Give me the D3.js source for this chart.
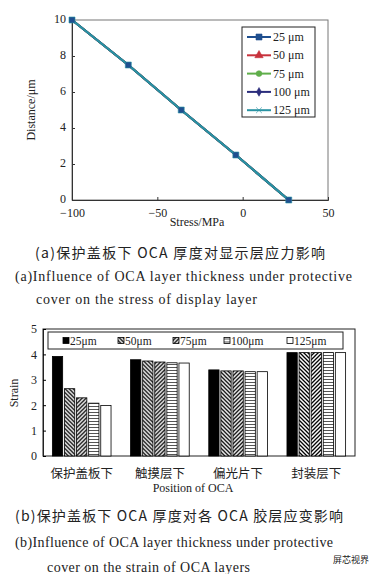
<!DOCTYPE html>
<html>
<head>
<meta charset="utf-8">
<script src="https://cdn.jsdelivr.net/npm/d3@7"></script>
<style>
  body { margin: 0; background: #fff; }
  svg { display: block; }
  text { font-family: "Liberation Serif", "Times New Roman", serif; fill: #222; }
  .cjk { font-family: "Noto Sans CJK SC", sans-serif; }
</style>
</head>
<body>
<script>
// ---- data: chart (a), stress vs distance for each OCA thickness
var distance = [10, 7.5, 5, 2.5, 0];
var stress25 = [-100, -67, -36, -4, 27];
var stress50 = [-100, -67, -36, -4, 27];
var stress75 = [-100, -67, -36, -4, 27];
var stress100 = [-100, -67, -36, -4, 27];
var stress125 = [-100, -67, -36, -4, 27];
var lineNames = ["25 μm", "50 μm", "75 μm", "100 μm", "125 μm"];
var xTicksA = [-100, -50, 0, 50];
var yTicksA = [0, 2, 4, 6, 8, 10];

// ---- data: chart (b), strain per OCA position
var positions = ["保护盖板下", "触摸层下", "偏光片下", "封装层下"];
var barNames = ["25μm", "50μm", "75μm", "100μm", "125μm"];
var strain25 = [3.92, 3.79, 3.39, 4.07];
var strain50 = [2.65, 3.74, 3.35, 4.07];
var strain75 = [2.29, 3.70, 3.35, 4.07];
var strain100 = [2.08, 3.67, 3.32, 4.07];
var strain125 = [1.99, 3.66, 3.32, 4.07];
var yTicksB = [0, 1, 2, 3, 4, 5];

var svg = d3.select("body").append("svg")
  .attr("width", 386)
  .attr("height", 574);

// ================= chart (a) =================
var x = d3.scaleLinear().domain([-100, 50]).range([72, 328]);
var y = d3.scaleLinear().domain([0, 10]).range([200, 20]);

// frame
svg.append("rect")
  .attr("x", 72).attr("y", 20).attr("width", 256).attr("height", 180)
  .attr("fill", "none").attr("stroke", "#777").attr("stroke-width", 1);

var gx = svg.append("g").attr("transform", "translate(0,200)")
  .call(d3.axisBottom(x).tickValues(xTicksA).tickSize(-3).tickPadding(8));
var gy = svg.append("g").attr("transform", "translate(72,0)")
  .call(d3.axisLeft(y).tickValues(yTicksA).tickSize(-3).tickPadding(6));
[gx, gy].forEach(function(g) {
  g.select(".domain").attr("stroke", "#333");
  g.selectAll(".tick line").attr("stroke", "#333");
  g.selectAll("text").attr("font-size", 12).attr("font-family", "Liberation Serif").attr("fill", "#222");
});
gy.selectAll("text").attr("dy", "0.2em");

svg.append("text").attr("x", 197).attr("y", 226).attr("text-anchor", "middle")
  .attr("font-size", 12).text("Stress/MPa");
svg.append("text").attr("transform", "translate(35,110) rotate(-90)").attr("text-anchor", "middle")
  .attr("font-size", 12).text("Distance/μm");

var lineSeries = [
  { name: lineNames[0], vals: stress25, color: "#1f4f8f", mark: "square" },
  { name: lineNames[1], vals: stress50, color: "#c8323c", mark: "triangle" },
  { name: lineNames[2], vals: stress75, color: "#5fae4a", mark: "circle" },
  { name: lineNames[3], vals: stress100, color: "#2b2d7c", mark: "diamond" },
  { name: lineNames[4], vals: stress125, color: "#2a93a3", mark: "cross" }
];

var line = d3.line()
  .x(function(d) { return x(d[0]); })
  .y(function(d) { return y(d[1]); });

function symbolFor(m) {
  if (m == "square") return d3.symbol().type(d3.symbolSquare).size(36);
  if (m == "triangle") return d3.symbol().type(d3.symbolTriangle).size(30);
  if (m == "circle") return d3.symbol().type(d3.symbolCircle).size(26);
  if (m == "diamond") return d3.symbol().type(d3.symbolDiamond).size(22);
  return d3.symbol().type(d3.symbolX).size(24);
}

// lines underneath, markers of the 25 μm series on top
lineSeries.forEach(function(s, i) {
  var pts = s.vals.map(function(v, j) { return [v, distance[j]]; });
  svg.append("path").datum(pts)
    .attr("d", line).attr("fill", "none")
    .attr("stroke", s.color).attr("stroke-width", 2.2);
});
var pts25 = stress25.map(function(v, j) { return [v, distance[j]]; });
svg.append("g").selectAll("path").data(pts25).join("path")
  .attr("transform", function(d) { return "translate(" + x(d[0]) + "," + y(d[1]) + ")"; })
  .attr("d", symbolFor("square")())
  .attr("fill", "#1f4f8f").attr("stroke", "#2a93a3").attr("stroke-width", 0.6);

// legend (a)
svg.append("rect").attr("x", 242).attr("y", 27).attr("width", 73).attr("height", 90)
  .attr("fill", "#fff").attr("stroke", "#222").attr("stroke-width", 1);
var legA = svg.append("g").selectAll("g").data(lineSeries).join("g")
  .attr("transform", function(d, i) { return "translate(247," + (37 + i * 18.3) + ")"; });
legA.append("line").attr("x1", 0).attr("x2", 24).attr("y1", 0).attr("y2", 0)
  .attr("stroke", function(d) { return d.color; }).attr("stroke-width", 2);
legA.append("path").attr("transform", "translate(12,0)")
  .attr("d", function(d) { return symbolFor(d.mark)(); })
  .attr("fill", function(d) { return d.color; })
  .attr("stroke", function(d) { return d.color; }).attr("stroke-width", 0.6);
legA.append("text").attr("x", 26).attr("y", 4).attr("font-size", 12)
  .text(function(d) { return d.name; });

// captions (a)
svg.append("text").attr("class", "cjk").attr("x", 35).attr("y", 258)
  .attr("font-size", 14).attr("textLength", 290).attr("lengthAdjust", "spacing")
  .attr("fill", "#333").text("(a)保护盖板下 OCA 厚度对显示层应力影响");
svg.append("text").attr("x", 15).attr("y", 281)
  .attr("font-size", 14).attr("textLength", 337).attr("lengthAdjust", "spacing")
  .attr("fill", "#333").text("(a)Influence of OCA layer thickness under protective");
svg.append("text").attr("x", 36).attr("y", 304)
  .attr("font-size", 14).attr("textLength", 221).attr("lengthAdjust", "spacing")
  .attr("fill", "#333").text("cover on the stress of display layer");

// ================= chart (b) =================
var defs = svg.append("defs");
var p1 = defs.append("pattern").attr("id", "back").attr("patternUnits", "userSpaceOnUse")
  .attr("width", 4).attr("height", 4);
p1.append("rect").attr("width", 4).attr("height", 4).attr("fill", "#fff");
p1.append("path").attr("d", "M-1,-1L5,5M-1,3L1,5M3,-1L5,1").attr("stroke", "#000").attr("stroke-width", 1.3);
var p2 = defs.append("pattern").attr("id", "fwd").attr("patternUnits", "userSpaceOnUse")
  .attr("width", 4).attr("height", 4);
p2.append("rect").attr("width", 4).attr("height", 4).attr("fill", "#fff");
p2.append("path").attr("d", "M-1,5L5,-1M-1,1L1,-1M3,5L5,3").attr("stroke", "#000").attr("stroke-width", 1.3);
var p3 = defs.append("pattern").attr("id", "horiz").attr("patternUnits", "userSpaceOnUse")
  .attr("width", 4).attr("height", 3);
p3.append("rect").attr("width", 4).attr("height", 3).attr("fill", "#fff");
p3.append("path").attr("d", "M0,1.5H4").attr("stroke", "#555").attr("stroke-width", 1);

var fills = ["#000", "url(#back)", "url(#fwd)", "url(#horiz)", "#fff"];
var strainSeries = [strain25, strain50, strain75, strain100, strain125];

var xb = d3.scaleBand().domain(positions).range([43, 355]).paddingInner(0.25).paddingOuter(0.12);
var xi = d3.scaleBand().domain(d3.range(5)).range([0, xb.bandwidth()]).paddingInner(0.15);
var yb = d3.scaleLinear().domain([0, 5]).range([456, 329]);

svg.append("rect").attr("x", 43).attr("y", 329).attr("width", 312).attr("height", 127)
  .attr("fill", "none").attr("stroke", "#222").attr("stroke-width", 1);

var gyb = svg.append("g").attr("transform", "translate(43,0)")
  .call(d3.axisLeft(yb).tickValues(yTicksB).tickFormat(d3.format("d")).tickSize(-3).tickPadding(6));
gyb.select(".domain").attr("stroke", "#222");
gyb.selectAll("text").attr("font-size", 12).attr("font-family", "Liberation Serif").attr("fill", "#222");

var groups = svg.append("g").selectAll("g").data(positions).join("g")
  .attr("transform", function(d) { return "translate(" + xb(d) + ",0)"; });
groups.selectAll("rect")
  .data(function(d, gi) { return strainSeries.map(function(s, k) { return { k: k, v: s[gi] }; }); })
  .join("rect")
  .attr("x", function(d) { return xi(d.k); })
  .attr("width", xi.bandwidth())
  .attr("y", function(d) { return yb(d.v); })
  .attr("height", function(d) { return yb(0) - yb(d.v); })
  .attr("fill", function(d) { return fills[d.k]; })
  .attr("stroke", "#000").attr("stroke-width", 0.8);

svg.append("g").selectAll("text").data(positions).join("text")
  .attr("class", "cjk")
  .attr("x", function(d) { return xb(d) + xb.bandwidth() / 2; })
  .attr("y", 478).attr("text-anchor", "middle").attr("font-size", 12.5)
  .text(function(d) { return d; });

svg.append("text").attr("x", 193).attr("y", 492).attr("text-anchor", "middle")
  .attr("font-size", 12).text("Position of OCA");
svg.append("text").attr("transform", "translate(18,393) rotate(-90)").attr("text-anchor", "middle")
  .attr("font-size", 12).text("Strain");

// legend (b)
svg.append("rect").attr("x", 48).attr("y", 332).attr("width", 295).attr("height", 17)
  .attr("fill", "#fff").attr("stroke", "#222").attr("stroke-width", 1);
var legX = [63, 118, 173, 224, 287];
var legB = svg.append("g").selectAll("g").data(barNames).join("g")
  .attr("transform", function(d, i) { return "translate(" + legX[i] + ",340.5)"; });
legB.append("rect").attr("x", 0).attr("y", -3).attr("width", 6).attr("height", 6)
  .attr("fill", function(d, i) { return fills[i]; }).attr("stroke", "#000").attr("stroke-width", 0.8);
legB.append("text").attr("x", 7).attr("y", 4).attr("font-size", 11.5)
  .text(function(d) { return d; });

// captions (b)
svg.append("text").attr("class", "cjk").attr("x", 15).attr("y", 521)
  .attr("font-size", 14).attr("textLength", 328).attr("lengthAdjust", "spacing")
  .attr("fill", "#333").text("(b)保护盖板下 OCA 厚度对各 OCA 胶层应变影响");
svg.append("text").attr("x", 15).attr("y", 547)
  .attr("font-size", 14).attr("textLength", 318).attr("lengthAdjust", "spacing")
  .attr("fill", "#333").text("(b)Influence of OCA layer thickness under protective");
svg.append("text").attr("x", 47).attr("y", 572)
  .attr("font-size", 14).attr("textLength", 203).attr("lengthAdjust", "spacing")
  .attr("fill", "#333").text("cover on the strain of OCA layers");

// watermark
svg.append("text").attr("class", "cjk").attr("x", 333).attr("y", 563)
  .attr("font-size", 9).attr("fill", "#aaa").text("屏芯视界");
</script>
</body>
</html>
